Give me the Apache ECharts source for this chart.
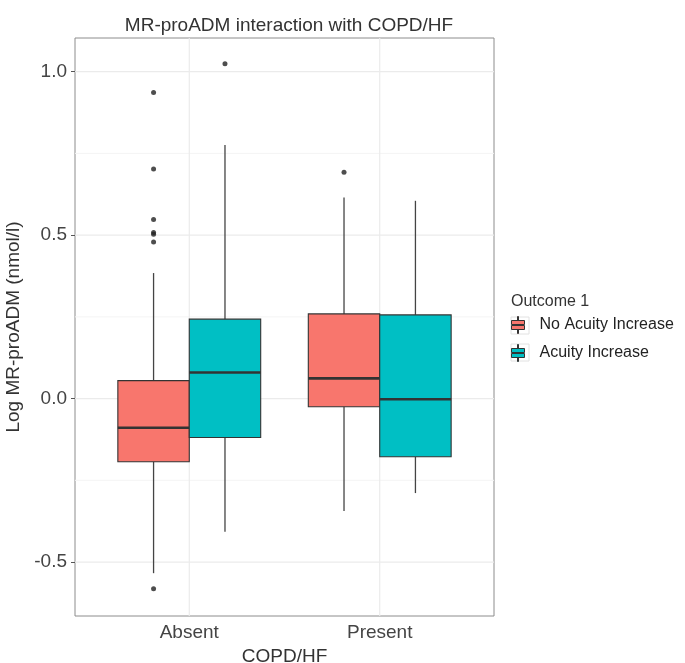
<!DOCTYPE html>
<html>
<head>
<meta charset="utf-8">
<script src="https://cdn.jsdelivr.net/npm/echarts@6/dist/echarts.min.js"></script>
<style>html,body{margin:0;padding:0;background:#fff;}#c{width:685px;height:663px;}</style>
</head>
<body>
<div id="c"></div>
<script>
// ---- data ----
const categories = ['Absent', 'Present'];
const seriesNames = ['No Acuity Increase', 'Acuity Increase'];
// [lowerWhisker, Q1, median, Q3, upperWhisker] per category
const noAcuityBox = [
  [-0.534, -0.193, -0.089, 0.055, 0.384],
  [-0.344, -0.025, 0.062, 0.259, 0.615]
];
const acuityBox = [
  [-0.407, -0.119, 0.080, 0.243, 0.776],
  [-0.289, -0.178, -0.002, 0.256, 0.605]
];
// [categoryIndex, value]
const noAcuityOutliers = [[0, 0.936], [0, 0.702], [0, 0.548], [0, 0.508], [0, 0.503], [0, 0.479], [0, -0.582], [1, 0.692]];
const acuityOutliers = [[0, 1.024]];
const yTicks = [-0.5, 0.0, 0.5, 1.0];
const yMinorTicks = [-0.25, 0.25, 0.75];
const xTicks = [1, 2];

// ---- layout constants ----
const BOX_W = 0.375;
const DODGE = 0.1875;
const colors = ['#F8766D', '#00BFC4'];
const FONT = 'Liberation Sans, Arial, sans-serif';

function boxData(arr) { return arr.map((b, i) => [i + 1].concat(b)); }
function outData(arr, off) { return arr.map(p => [p[0] + 1 + off, p[1]]); }

function boxRender(offset) {
  return function (params, api) {
    const cx = api.value(0) + offset;
    const lo = api.value(1), q1 = api.value(2), med = api.value(3), q3 = api.value(4), hi = api.value(5);
    const w = api.size([BOX_W, 0])[0];
    const pHi = api.coord([cx, hi]), pQ3 = api.coord([cx, q3]), pMed = api.coord([cx, med]);
    const pQ1 = api.coord([cx, q1]), pLo = api.coord([cx, lo]);
    const fill = api.visual('color');
    return {
      type: 'group',
      children: [
        { type: 'line', shape: { x1: pHi[0], y1: pHi[1], x2: pQ3[0], y2: pQ3[1] }, style: { stroke: '#444', lineWidth: 1.3 } },
        { type: 'line', shape: { x1: pLo[0], y1: pLo[1], x2: pQ1[0], y2: pQ1[1] }, style: { stroke: '#444', lineWidth: 1.3 } },
        { type: 'rect', shape: { x: pQ3[0] - w / 2, y: pQ3[1], width: w, height: pQ1[1] - pQ3[1] }, style: { fill: fill, stroke: '#333', lineWidth: 1.1 } },
        { type: 'line', shape: { x1: pMed[0] - w / 2, y1: pMed[1], x2: pMed[0] + w / 2, y2: pMed[1] }, style: { stroke: '#333', lineWidth: 2.6 } }
      ]
    };
  };
}

function hLineRender(color, width) {
  return function (params, api) {
    const cs = params.coordSys;
    const p = api.coord([0.4, api.value(0)]);
    return { type: 'line', shape: { x1: cs.x, y1: p[1], x2: cs.x + cs.width, y2: p[1] }, style: { stroke: color, lineWidth: width } };
  };
}
function vLineRender(color, width) {
  return function (params, api) {
    const cs = params.coordSys;
    const p = api.coord([api.value(0), 0]);
    return { type: 'line', shape: { x1: p[0], y1: cs.y, x2: p[0], y2: cs.y + cs.height }, style: { stroke: color, lineWidth: width } };
  };
}

const legendIcon = 'path://M8,0L9,0L9,4L8,4Z M2,4L15,4L15,8L2,8Z M2,9L15,9L15,13L2,13Z M8,13L9,13L9,17L8,17Z';

const chart = echarts.init(document.getElementById('c'), null, { renderer: 'canvas' });
chart.setOption({
  animation: false,
  backgroundColor: '#fff',
  textStyle: { fontFamily: FONT },
  title: {
    text: 'MR-proADM interaction with COPD/HF',
    left: 284, top: 11, textAlign: 'center',
    textStyle: { fontSize: 19, fontWeight: 'normal', color: '#333', fontFamily: FONT }
  },
  grid: { left: 75, right: 191, top: 38, bottom: 47, outerBoundsMode: 'none', containLabel: false, show: true, borderColor: '#8c8c8c', borderWidth: 1, backgroundColor: 'transparent' },
  xAxis: {
    type: 'value', min: 0.4, max: 2.6,
    name: 'COPD/HF', nameLocation: 'middle', nameGap: 29,
    nameTextStyle: { fontSize: 19, color: '#333', fontFamily: FONT },
    axisLine: { show: false },
    axisTick: { show: true, customValues: xTicks, length: 4, lineStyle: { color: '#555' } },
    axisLabel: { customValues: xTicks, fontSize: 19, color: '#444', margin: 7, fontFamily: FONT,
      formatter: v => categories[Math.round(v) - 1] || '' },
    splitLine: { show: false }
  },
  yAxis: {
    type: 'value', min: -0.665, max: 1.103,
    name: 'Log MR-proADM (nmol/l)', nameLocation: 'middle', nameGap: 46,
    nameTextStyle: { fontSize: 19, color: '#333', fontFamily: FONT },
    axisLine: { show: false },
    axisTick: { show: true, customValues: yTicks, length: 4, lineStyle: { color: '#555' } },
    axisLabel: { customValues: yTicks, fontSize: 19, color: '#444', margin: 8, fontFamily: FONT,
      formatter: v => v.toFixed(1) },
    splitLine: { show: false }
  },
  legend: {
    data: seriesNames, orient: 'vertical', left: 511, top: 316,
    itemWidth: 17, itemHeight: 17, itemGap: 10, padding: 0,
    icon: legendIcon,
    itemStyle: { borderColor: '#333', borderWidth: 1 },
    textStyle: { fontSize: 16, color: '#222', fontFamily: FONT, padding: [0, 0, 0, 8] }
  },
  graphic: [
    { type: 'text', left: 511, top: 294, style: { text: 'Outcome 1', fontSize: 16, fill: '#333', font: '16px ' + FONT } },
    { type: 'rect', left: 510.5, top: 316.5, z: -1, shape: { width: 18, height: 17 }, style: { fill: '#fff', stroke: '#e2e2e2', lineWidth: 1 } },
    { type: 'rect', left: 510.5, top: 343.5, z: -1, shape: { width: 18, height: 17 }, style: { fill: '#fff', stroke: '#e2e2e2', lineWidth: 1 } }
  ],
  series: [
    { type: 'custom', name: 'gridMinor', silent: true, z: 0, data: yMinorTicks.map(v => [v]), renderItem: hLineRender('#f4f4f4', 1), encode: { y: 0 } },
    { type: 'custom', name: 'gridMajor', silent: true, z: 0, data: yTicks.map(v => [v]), renderItem: hLineRender('#ebebeb', 1.2), encode: { y: 0 } },
    { type: 'custom', name: 'gridX', silent: true, z: 0, data: xTicks.map(v => [v]), renderItem: vLineRender('#ebebeb', 1.2), encode: { x: 0 } },
    { type: 'custom', name: seriesNames[0], z: 2, itemStyle: { color: colors[0] }, data: boxData(noAcuityBox), renderItem: boxRender(-DODGE), encode: { x: 0, y: [1, 2, 3, 4, 5] } },
    { type: 'custom', name: seriesNames[1], z: 2, itemStyle: { color: colors[1] }, data: boxData(acuityBox), renderItem: boxRender(DODGE), encode: { x: 0, y: [1, 2, 3, 4, 5] } },
    { type: 'scatter', name: 'out0', z: 3, symbolSize: 5, itemStyle: { color: '#222' }, data: outData(noAcuityOutliers, -DODGE) },
    { type: 'scatter', name: 'out1', z: 3, symbolSize: 5, itemStyle: { color: '#222' }, data: outData(acuityOutliers, DODGE) }
  ]
});
</script>
</body>
</html>
